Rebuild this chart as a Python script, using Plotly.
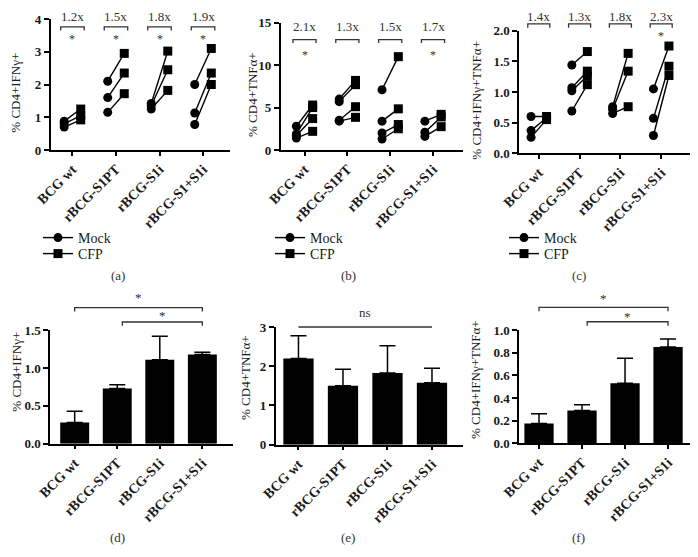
import plotly.graph_objects as go

# the page body adds an 8px margin, so positions are shifted by 8px and the figure ends at the window edge
PAGE_W, PAGE_H, OFFS = 698, 557, 8
W, H = PAGE_W - OFFS, PAGE_H - OFFS

categories = ["BCG wt", "rBCG-S1PT", "rBCG-S1i", "rBCG-S1+S1i"]

# (a) % CD4+IFNγ+  (paired Mock -> CFP per mouse)
ifng_mock = [[0.88, 0.80, 0.70], [2.10, 1.60, 1.15], [1.42, 1.35, 1.25], [2.00, 1.13, 0.78]]
ifng_cfp = [[1.25, 1.05, 0.92], [2.95, 2.35, 1.72], [3.02, 2.45, 1.82], [3.10, 2.35, 2.00]]
ifng_fold = ["1.2x", "1.5x", "1.8x", "1.9x"]
ifng_sig = [True, True, True, True]

# (b) % CD4+TNFα+
tnfa_mock = [[2.8, 1.9, 1.7, 1.4], [6.0, 5.7, 3.5, 3.4], [7.1, 3.4, 2.0, 1.3], [3.4, 2.1, 1.6]]
tnfa_cfp = [[5.3, 5.0, 3.7, 2.2], [8.2, 7.7, 5.1, 3.85], [11.0, 4.85, 3.0, 2.5], [4.2, 3.9, 2.75]]
tnfa_fold = ["2.1x", "1.3x", "1.5x", "1.7x"]
tnfa_sig = [True, False, False, True]

# (c) % CD4+IFNγ+TNFα+
dp_mock = [[0.60, 0.37, 0.26], [1.44, 1.07, 1.02, 0.69], [0.76, 0.72, 0.65], [1.05, 0.57, 0.29]]
dp_cfp = [[0.60, 0.58, 0.55], [1.66, 1.34, 1.26, 1.12], [1.63, 1.34, 0.76], [1.75, 1.42, 1.27]]
dp_fold = ["1.4x", "1.3x", "1.8x", "2.3x"]
dp_sig = [False, False, False, True]

# (d)-(f) bar means and SEM (upper)
ifng_bar = [0.28, 0.73, 1.11, 1.18]
ifng_err = [0.15, 0.05, 0.31, 0.03]
tnfa_bar = [2.20, 1.50, 1.83, 1.58]
tnfa_err = [0.58, 0.42, 0.69, 0.37]
dp_bar = [0.175, 0.29, 0.53, 0.85]
dp_err = [0.085, 0.05, 0.22, 0.07]

FONT = "Liberation Serif"
TXT = "#1a1a1a"


def fx(px):
    return (px - OFFS) / W


def fy(py):
    return 1 - (py - OFFS) / H


fig = go.Figure()

panels = {
    1: dict(xp=(50.7, 230), yp=(19, 150), xr=[-0.50, 3.62], yr=[0, 4], tv=[0, 1, 2, 3, 4], tf="d"),
    2: dict(xp=(280.7, 463), yp=(22.7, 150), xr=[-0.556, 3.70], yr=[0, 15], tv=[0, 5, 10, 15], tf="d"),
    3: dict(xp=(519, 692), yp=(30.7, 153.3), xr=[-0.485, 3.755], yr=[0, 2], tv=[0, 0.5, 1, 1.5, 2], tf=".1f"),
    4: dict(xp=(50, 233), yp=(330.3, 443.7), xr=[-0.58, 3.72], yr=[0, 1.5], tv=[0, 0.5, 1, 1.5], tf=".1f"),
    5: dict(xp=(275.7, 463), yp=(327, 444.7), xr=[-0.512, 3.697], yr=[0, 3], tv=[0, 1, 2, 3], tf="d"),
    6: dict(xp=(519, 693), yp=(330, 443.3), xr=[-0.465, 3.58], yr=[0, 1], tv=[0, 0.2, 0.4, 0.6, 0.8, 1.0], tf=".1f"),
}

for k, p in panels.items():
    sx = "" if k == 1 else str(k)
    fig.layout["xaxis" + sx] = dict(
        domain=[fx(p["xp"][0]), fx(p["xp"][1])], anchor="y" + sx, range=p["xr"],
        tickmode="array", tickvals=[0, 1, 2, 3], ticktext=categories, tickangle=-45,
        showline=True, linecolor="black", linewidth=1.5, ticks="outside", ticklen=4,
        tickwidth=1.5, tickcolor="black", showgrid=False, zeroline=False, automargin=False,
        tickfont=dict(family=FONT, size=14, color=TXT, weight="bold"),
    )
    fig.layout["yaxis" + sx] = dict(
        domain=[fy(p["yp"][1]), fy(p["yp"][0])], anchor="x" + sx, range=p["yr"],
        tickmode="array", tickvals=p["tv"], tickformat=p["tf"],
        showline=True, linecolor="black", linewidth=1.5, ticks="outside", ticklen=5,
        tickwidth=1.5, tickcolor="black", showgrid=False, zeroline=False, automargin=False,
        tickfont=dict(family=FONT, size=13, color=TXT, weight="bold"),
    )

OFF = 0.19


def note(**kw):
    kw.setdefault("xanchor", "center")
    kw.setdefault("yanchor", "middle")
    kw.setdefault("showarrow", False)
    fig.add_annotation(**kw)


def paired(k, mock, cfp, fold, sig, ymax, y_br, y_lab, y_star, drop):
    sx = "" if k == 1 else str(k)
    for i in range(len(categories)):
        for m, c in zip(mock[i], cfp[i]):
            fig.add_trace(go.Scatter(
                x=[i - OFF, i + OFF], y=[m, c], mode="lines+markers",
                xaxis="x" + sx, yaxis="y" + sx, showlegend=False, cliponaxis=False,
                line=dict(color="black", width=1.4),
                marker=dict(symbol=["circle", "square"], size=9, color="black"),
                hoverinfo="skip"))
        yb = y_br / ymax
        yd = (y_br - drop) / ymax
        fig.add_shape(type="path", xref="x" + sx, yref="y" + sx + " domain",
                      path=f"M {i-0.27},{yd} L {i-0.27},{yb} L {i+0.27},{yb} L {i+0.27},{yd}",
                      line=dict(color="#333333", width=1.3))
        note(x=i, y=y_lab / ymax, xref="x" + sx, yref="y" + sx + " domain", text=fold[i],
             font=dict(family=FONT, size=13, color="#333333"))
        if sig[i]:
            note(x=i, y=y_star / ymax, xref="x" + sx, yref="y" + sx + " domain", text="*",
                 font=dict(family=FONT, size=12, color="#333333"))


paired(1, ifng_mock, ifng_cfp, ifng_fold, ifng_sig, 4, 3.76, 4.08, 3.40, 0.11)
paired(2, tnfa_mock, tnfa_cfp, tnfa_fold, tnfa_sig, 15, 13.0, 14.5, 11.2, 0.4)
paired(3, dp_mock, dp_cfp, dp_fold, dp_sig, 2, 2.11, 2.235, 1.91, 0.06)

# legends: one per entry so each can be placed like the reference
leg_pos = {1: 38, 2: 270, 3: 504}
n = 1
for k in (1, 2, 3):
    sx = "" if k == 1 else str(k)
    for name, sym, yp in [("Mock", "circle", 238), ("CFP", "square", 254)]:
        lg = "legend" if n == 1 else f"legend{n}"
        fig.add_trace(go.Scatter(x=[None], y=[None], mode="lines+markers", name=name,
                                 xaxis="x" + sx, yaxis="y" + sx, legend=lg,
                                 line=dict(color="black", width=1.4),
                                 marker=dict(symbol=sym, size=9, color="black")))
        fig.layout[lg] = dict(x=fx(leg_pos[k]), y=fy(yp), xanchor="left", yanchor="middle",
                              bgcolor="rgba(0,0,0,0)", itemwidth=30, borderwidth=0,
                              font=dict(family=FONT, size=14, color=TXT))
        n += 1


def bars(k, vals, err, ymax, lines, star_lines):
    sx = "" if k == 1 else str(k)
    fig.add_trace(go.Bar(x=list(range(len(categories))), y=vals, width=0.68,
                         xaxis="x" + sx, yaxis="y" + sx, showlegend=False,
                         marker=dict(color="black", line=dict(width=0)),
                         error_y=dict(type="data", array=err, arrayminus=[0] * len(err),
                                      symmetric=False, color="black", thickness=1.5, width=8),
                         hoverinfo="skip"))
    for (x0, x1, yv, drop) in lines:
        yb = yv / ymax
        yd = (yv - drop) / ymax
        fig.add_shape(type="path", xref="x" + sx, yref="y" + sx + " domain",
                      path=f"M {x0},{yd} L {x0},{yb} L {x1},{yb} L {x1},{yd}",
                      line=dict(color="#333333", width=1.3))
    for (xm, yv, txt) in star_lines:
        note(x=xm, y=yv / ymax, xref="x" + sx, yref="y" + sx + " domain", text=txt,
             font=dict(family=FONT, size=13, color="#333333"))


bars(4, ifng_bar, ifng_err, 1.5, [(0, 3, 1.80, 0.05), (1.12, 3, 1.61, 0.05)],
     [(1.5, 1.93, "*"), (2.06, 1.69, "*")])
bars(5, tnfa_bar, tnfa_err, 3, [(0, 3, 3.0, 0.0)], [(1.5, 3.36, "ns")])
bars(6, dp_bar, dp_err, 1.0, [(0, 3, 1.20, 0.035), (1.12, 3, 1.073, 0.035)],
     [(1.5, 1.28, "*"), (2.06, 1.12, "*")])

titles = [("% CD4+IFNγ+", 15.7, 93), ("% CD4+TNFα+", 253, 95), ("% CD4+IFNγ+TNFα+", 475.7, 100),
          ("% CD4+IFNγ+", 15.7, 372), ("% CD4+TNFα+", 245, 378), ("% CD4+IFNγ+TNFα+", 475, 380)]
for t, xp, yp in titles:
    note(x=fx(xp), y=fy(yp), xref="paper", yref="paper", text=t, textangle=-90,
         font=dict(family=FONT, size=13, color=TXT))

letters = [("(a)", 118, 275), ("(b)", 348, 275), ("(c)", 579, 275),
           ("(d)", 118, 537), ("(e)", 348, 537), ("(f)", 578, 537)]
for t, xp, yp in letters:
    note(x=fx(xp), y=fy(yp), xref="paper", yref="paper", text=t,
         font=dict(family=FONT, size=13, color="#333333"))

fig.update_layout(template="none", width=W, height=H, margin=dict(l=0, r=0, t=0, b=0, pad=0),
                  paper_bgcolor="white", plot_bgcolor="white", barmode="overlay",
                  font=dict(family=FONT, color=TXT), hovermode=False)

fig.write_html("out.html")
